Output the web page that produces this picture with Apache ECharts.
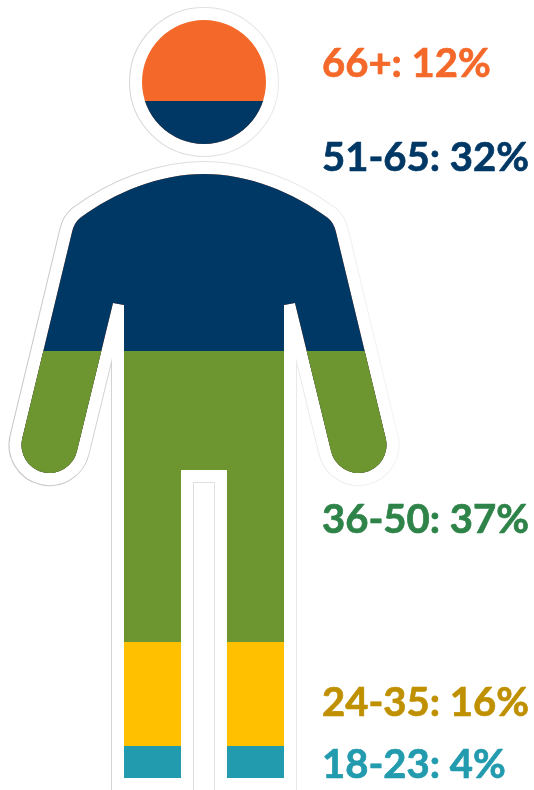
<!DOCTYPE html>
<html>
<head>
<meta charset="utf-8">
<style>
  html, body { margin: 0; padding: 0; background: #fff; }
  #chart { width: 534px; height: 790px; }
</style>
<script src="https://cdn.jsdelivr.net/npm/echarts@6/dist/echarts.min.js"></script>
</head>
<body>
<div id="chart"></div>
<script>
// top to bottom, same order as the figure
const ageGroups = ["66+", "51-65", "36-50", "24-35", "18-23"];
const shares = [12, 32, 37, 16, 4];
// height of each colour band on the figure
const bandHeights = [81, 250, 291, 104, 32];
const bandColors = ["#f4692a", "#003865", "#6e9630", "#ffc000", "#219bad"];
const textColors = ["#f4692a", "#003865", "#2e8349", "#bf9000", "#219bad"];
const labelTops = [64, 158, 520, 703, 765];

const personShape =
  "M142,82 A62,62 0 1 1 266,82 A62,62 0 1 1 142,82 Z " +
  "M204,174 C160,174 115,192 80,218 Q74,223 72,232 L22.2,438.6 " +
  "A28,28 0 0 0 76.8,451.4 L113,303 L124,305 L124,778 L181,778 L181,470 " +
  "L227,470 L227,778 L284,778 L284,305 L295,303 L331.2,451.4 " +
  "A28,28 0 0 0 385.8,438.6 L336,232 Q334,223 328,218 C293,192 248,174 204,174 Z";

const total = bandHeights.reduce((a, b) => a + b, 0);

// the halo round the figure: a wide white stroke with a thin grey rim
function outlineSeries(lineWidth, stroke) {
  return {
    type: "custom",
    data: [[0, total]],
    clip: false,
    silent: true,
    renderItem(params, api) {
      const top = api.coord([0, total]);
      const bottom = api.coord([0, 0]);
      const width = api.size([1, 0])[0];
      return {
        type: "path",
        shape: {
          pathData: personShape,
          layout: "cover",
          x: top[0] - width / 2,
          y: top[1],
          width: width,
          height: bottom[1] - top[1],
        },
        style: { fill: "#fff", stroke: stroke, lineWidth: lineWidth, lineJoin: "miter" },
      };
    },
  };
}

const rim = new echarts.graphic.LinearGradient(0, 0, 1, 0, [
  { offset: 0, color: "#c4c4c4" },
  { offset: 0.5, color: "#e0e0e0" },
  { offset: 1, color: "#f4f4f4" },
]);

let series = [outlineSeries(26, rim), outlineSeries(24, "#fff")];

// tallest band first, each next one painted over the lower part of the figure
let height = total;
bandHeights.forEach((h, i) => {
  series.push({
    type: "pictorialBar",
    data: [height],
    symbol: "path://" + personShape,
    symbolSize: ["100%", "100%"],
    symbolPosition: "start",
    symbolBoundingData: total,
    symbolClip: true,
    barWidth: "100%",
    barGap: "-100%",
    silent: true,
    itemStyle: { color: bandColors[i] },
  });
  height -= h;
});

let labels = ageGroups.map((g, i) => ({
  type: "text",
  x: 322,
  y: labelTops[i],
  style: {
    text: g + ": " + shares[i] + "%",
    fill: textColors[i],
    stroke: textColors[i],
    lineWidth: 0.7,
    font: "bold 40px Lato",
    textVerticalAlign: "middle",
  },
}));

let myChart = echarts.init(document.getElementById("chart"));
myChart.setOption({
  animation: false,
  grid: { left: 21.5, top: 20, width: 365, height: total },
  xAxis: { type: "category", data: ["person"], show: false },
  yAxis: { type: "value", min: 0, max: total, show: false },
  series: series,
  graphic: labels,
});
</script>
</body>
</html>
